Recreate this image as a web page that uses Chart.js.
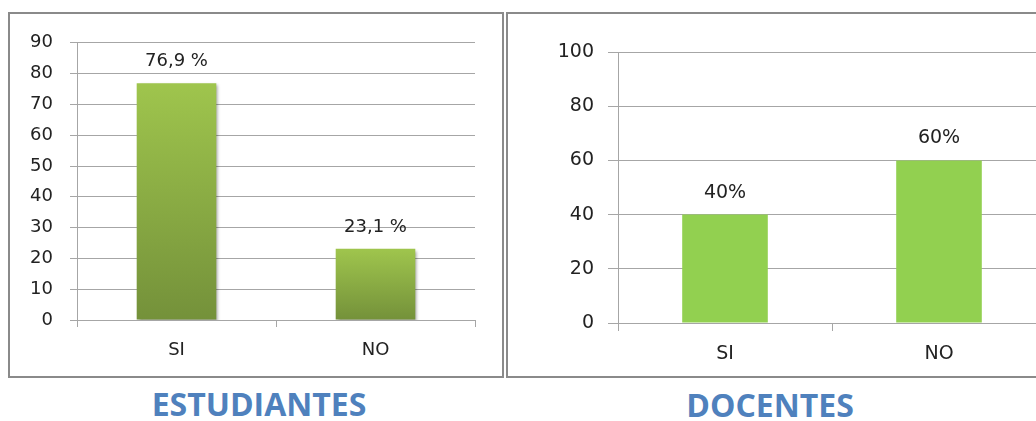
<!DOCTYPE html>
<html>
<head>
<meta charset="utf-8">
<script src="https://cdn.jsdelivr.net/npm/chart.js@4.4.1/dist/chart.umd.min.js"></script>
<style>
  html, body { margin: 0; padding: 0; background: #fff; width: 1036px; height: 421px; overflow: hidden; position: relative; }
  .panel { position: absolute; border: 2px solid #8a8a8a; box-sizing: border-box; }
  canvas { position: absolute; }
  .title { position: absolute; font-family: "Open Sans", sans-serif; font-weight: 700; font-size: 32px; color: #4f81bd; transform: translateX(-50%); white-space: nowrap; line-height: 1; }
</style>
</head>
<body>
<div class="panel" style="left:8px; top:12px; width:496px; height:366px;"></div>
<div class="panel" style="left:506px; top:12px; width:560px; height:366px;"></div>
<canvas id="c1" width="491" height="359" style="left:10px; top:15px;"></canvas>
<canvas id="c2" width="560" height="361" style="left:509px; top:15px;"></canvas>
<div class="title" style="left:259px; top:388px;">ESTUDIANTES</div>
<div class="title" style="left:770px; top:389px;">DOCENTES</div>
<script>
// ---- data ----
const categories = ["SI", "NO"];
const estudiantesValues = [76.9, 23.1];
const estudiantesLabels = ["76,9 %", "23,1 %"];
const docentesValues = [40, 60];
const docentesLabels = ["40%", "60%"];
const estudiantesTicks = { min: 0, max: 90, step: 10 };
const docentesTicks = { min: 0, max: 100, step: 20 };

const gridColor = "#a6a6a6";
const textColor = "#222222";

function barLabelPlugin(labels, fontSize, offset, shadow) {
  return {
    id: "barLabels",
    beforeDatasetsDraw(chart) {
      const ctx = chart.ctx;
      ctx.save();
      if (shadow) {
        ctx.shadowColor = "rgba(0,0,0,0.35)";
        ctx.shadowBlur = 3;
        ctx.shadowOffsetX = 2;
        ctx.shadowOffsetY = 2;
      }
    },
    afterDatasetsDraw(chart) {
      const ctx = chart.ctx;
      ctx.restore();
      const meta = chart.getDatasetMeta(0);
      ctx.save();
      ctx.font = fontSize + "px 'DejaVu Sans'";
      ctx.fillStyle = textColor;
      ctx.textAlign = "center";
      ctx.textBaseline = "middle";
      meta.data.forEach((bar, i) => {
        ctx.fillText(labels[i], bar.x, bar.y - offset);
      });
      ctx.restore();
    }
  };
}

function gradientFill(context) {
  const chart = context.chart;
  const area = chart.chartArea;
  if (!area) return "#8db145";
  const y = chart.scales.y;
  const top = y.getPixelForValue(context.raw);
  const bottom = y.getPixelForValue(0);
  const g = chart.ctx.createLinearGradient(0, top, 0, bottom);
  g.addColorStop(0, "#9fc54d");
  g.addColorStop(1, "#74913a");
  return g;
}

function makeChart(id, values, labels, ticks, opts) {
  return new Chart(document.getElementById(id), {
    type: "bar",
    data: {
      labels: categories,
      datasets: [{
        data: values,
        backgroundColor: opts.fill,
        borderWidth: 0,
        categoryPercentage: 1,
        barPercentage: 0.4
      }]
    },
    options: {
      responsive: false,
      animation: false,
      devicePixelRatio: 1,
      layout: { padding: { top: opts.padTop, right: opts.padRight, left: 0, bottom: 0 } },
      plugins: { legend: { display: false }, tooltip: { enabled: false }, title: { display: false } },
      scales: {
        x: {
          grid: { display: true, drawOnChartArea: false, drawTicks: true, tickLength: opts.xTick, color: gridColor, offset: true },
          border: { display: true, color: gridColor },
          ticks: { color: textColor, font: { family: "DejaVu Sans", size: opts.font }, padding: opts.xPad, maxRotation: 0 },
          afterFit(scale) { scale.height = opts.xHeight; }
        },
        y: {
          min: ticks.min, max: ticks.max,
          grid: { color: gridColor, tickLength: opts.yTick, drawTicks: true },
          border: { display: true, color: gridColor },
          ticks: { stepSize: ticks.step, color: textColor, font: { family: "DejaVu Sans", size: opts.font }, padding: opts.yPad },
          afterFit(scale) { scale.width = opts.yWidth; }
        }
      }
    },
    plugins: [barLabelPlugin(labels, opts.font, 22, opts.shadow)]
  });
}

makeChart("c1", estudiantesValues, estudiantesLabels, estudiantesTicks, {
  fill: gradientFill, padTop: 23, padRight: 26, xHeight: 54, yWidth: 67,
  xTick: 7, yTick: 7, xPad: 13, yPad: 17, font: 18, shadow: true
});

makeChart("c2", docentesValues, docentesLabels, docentesTicks, {
  fill: "#92d050", padTop: 37, padRight: 23, xHeight: 53, yWidth: 109,
  xTick: 8, yTick: 10, xPad: 12, yPad: 14, font: 19, shadow: false
});
</script>
</body>
</html>
